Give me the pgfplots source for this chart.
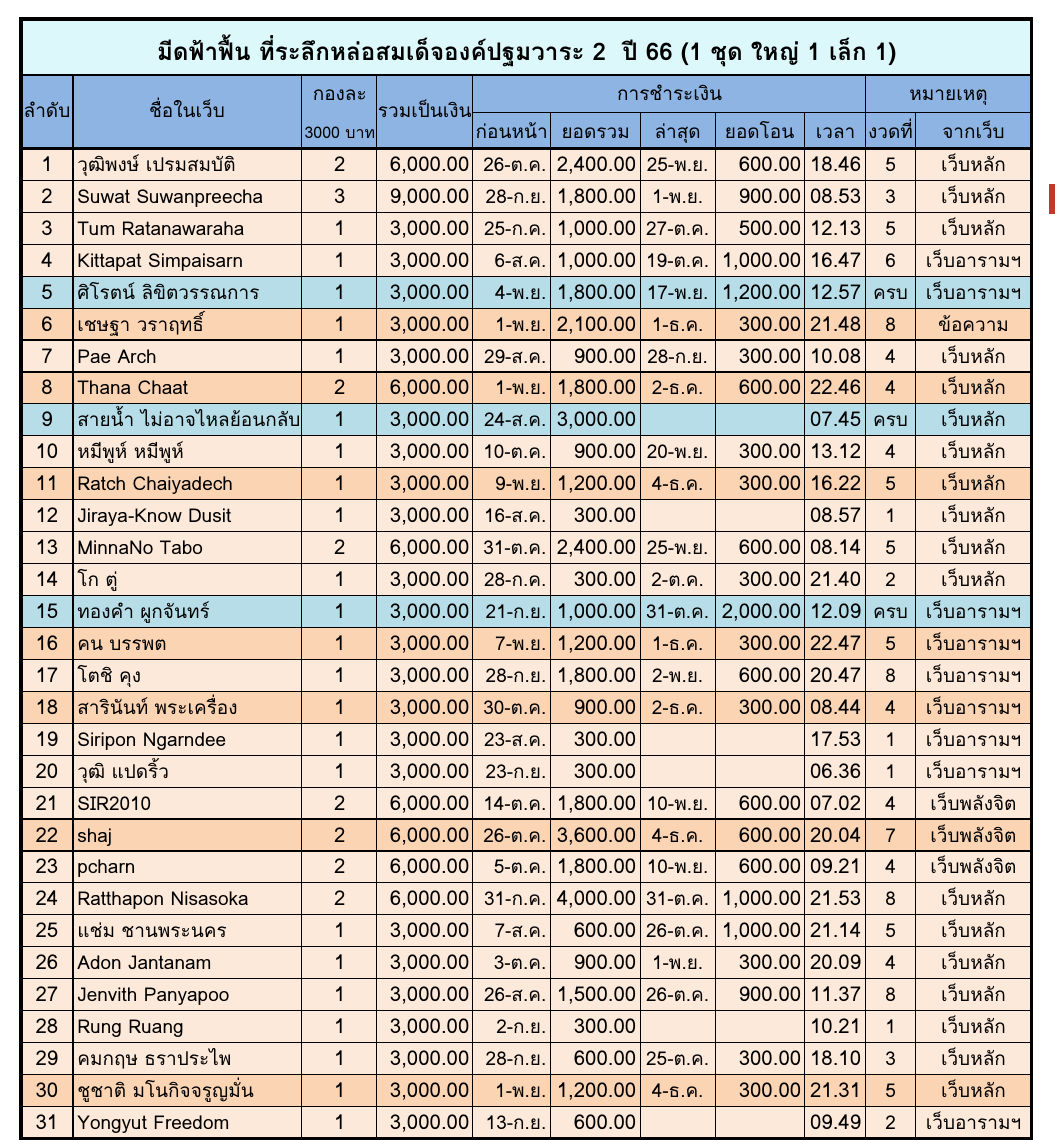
\documentclass[border=0pt]{standalone}
\usepackage{pgfplots}
\usepackage{pgfplotstable}
\pgfplotsset{compat=1.18}
\usepackage{fontspec}
\setmainfont{Loma}[Script=Thai]

\definecolor{titlebg}{HTML}{DDF8FB}
\definecolor{headbg}{HTML}{8DB4E2}
\definecolor{rowbg}{HTML}{FDE9D9}
\definecolor{roworange}{HTML}{FBD4B4}
\definecolor{rowblue}{HTML}{B7DEE8}
\definecolor{markred}{HTML}{C0392B}

% one row per member
\pgfplotstableread[col sep=semicolon]{
i;name;n;total;prev;sum;last;trans;time;rnd;web
1;วุฒิพงษ์ เปรมสมบัติ;2;6,000.00;26-ต.ค.;2,400.00;25-พ.ย.;600.00;18.46;5;เว็บหลัก
2;Suwat Suwanpreecha;3;9,000.00;28-ก.ย.;1,800.00;1-พ.ย.;900.00;08.53;3;เว็บหลัก
3;Tum Ratanawaraha;1;3,000.00;25-ก.ค.;1,000.00;27-ต.ค.;500.00;12.13;5;เว็บหลัก
4;Kittapat Simpaisarn;1;3,000.00;6-ส.ค.;1,000.00;19-ต.ค.;1,000.00;16.47;6;เว็บอารามฯ
5;ศิโรตน์ ลิขิตวรรณการ;1;3,000.00;4-พ.ย.;1,800.00;17-พ.ย.;1,200.00;12.57;ครบ;เว็บอารามฯ
6;เชษฐา วราฤทธิ์;1;3,000.00;1-พ.ย.;2,100.00;1-ธ.ค.;300.00;21.48;8;ข้อความ
7;Pae Arch;1;3,000.00;29-ส.ค.;900.00;28-ก.ย.;300.00;10.08;4;เว็บหลัก
8;Thana Chaat;2;6,000.00;1-พ.ย.;1,800.00;2-ธ.ค.;600.00;22.46;4;เว็บหลัก
9;สายน้ำ ไม่อาจไหลย้อนกลับ;1;3,000.00;24-ส.ค.;3,000.00;;;07.45;ครบ;เว็บหลัก
10;หมีพูห์ หมีพูห์;1;3,000.00;10-ต.ค.;900.00;20-พ.ย.;300.00;13.12;4;เว็บหลัก
11;Ratch Chaiyadech;1;3,000.00;9-พ.ย.;1,200.00;4-ธ.ค.;300.00;16.22;5;เว็บหลัก
12;Jiraya-Know Dusit;1;3,000.00;16-ส.ค.;300.00;;;08.57;1;เว็บหลัก
13;MinnaNo Tabo;2;6,000.00;31-ต.ค.;2,400.00;25-พ.ย.;600.00;08.14;5;เว็บหลัก
14;โก ตู่;1;3,000.00;28-ก.ค.;300.00;2-ต.ค.;300.00;21.40;2;เว็บหลัก
15;ทองคำ ผูกจันทร์;1;3,000.00;21-ก.ย.;1,000.00;31-ต.ค.;2,000.00;12.09;ครบ;เว็บอารามฯ
16;คน บรรพต;1;3,000.00;7-พ.ย.;1,200.00;1-ธ.ค.;300.00;22.47;5;เว็บอารามฯ
17;โตชิ คุง;1;3,000.00;28-ก.ย.;1,800.00;2-พ.ย.;600.00;20.47;8;เว็บอารามฯ
18;สารินันท์ พระเครื่อง;1;3,000.00;30-ต.ค.;900.00;2-ธ.ค.;300.00;08.44;4;เว็บอารามฯ
19;Siripon Ngarndee;1;3,000.00;23-ส.ค.;300.00;;;17.53;1;เว็บอารามฯ
20;วุฒิ แปดริ้ว;1;3,000.00;23-ก.ย.;300.00;;;06.36;1;เว็บอารามฯ
21;SIR2010;2;6,000.00;14-ต.ค.;1,800.00;10-พ.ย.;600.00;07.02;4;เว็บพลังจิต
22;shaj;2;6,000.00;26-ต.ค.;3,600.00;4-ธ.ค.;600.00;20.04;7;เว็บพลังจิต
23;pcharn;2;6,000.00;5-ต.ค.;1,800.00;10-พ.ย.;600.00;09.21;4;เว็บพลังจิต
24;Ratthapon Nisasoka;2;6,000.00;31-ก.ค.;4,000.00;31-ต.ค.;1,000.00;21.53;8;เว็บหลัก
25;แช่ม ชานพระนคร;1;3,000.00;7-ส.ค.;600.00;26-ต.ค.;1,000.00;21.14;5;เว็บหลัก
26;Adon Jantanam;1;3,000.00;3-ต.ค.;900.00;1-พ.ย.;300.00;20.09;4;เว็บหลัก
27;Jenvith Panyapoo;1;3,000.00;26-ส.ค.;1,500.00;26-ต.ค.;900.00;11.37;8;เว็บหลัก
28;Rung Ruang;1;3,000.00;2-ก.ย.;300.00;;;10.21;1;เว็บหลัก
29;คมกฤษ ธราประไพ;1;3,000.00;28-ก.ย.;600.00;25-ต.ค.;300.00;18.10;3;เว็บหลัก
30;ชูชาติ มโนกิจจรูญมั่น;1;3,000.00;1-พ.ย.;1,200.00;4-ธ.ค.;300.00;21.31;5;เว็บหลัก
31;Yongyut Freedom;1;3,000.00;13-ก.ย.;600.00;;;09.49;2;เว็บอารามฯ
}\members

% header cells: centre x, baseline y (pixels from the top)
\pgfplotstableread[col sep=semicolon]{
x;y;label
47;118;ลำดับ
187;118;ชื่อในเว็บ
340;101;กองละ
425;118;รวมเป็นเงิน
670;101;การชำระเงิน
949;101;หมายเหตุ
512;139;ก่อนหน้า
596;139;ยอดรวม
678;139;ล่าสุด
760;139;ยอดโอน
836;139;เวลา
891;139;งวดที่
974;139;จากเว็บ
}\headers

\newcommand\datafont{\fontsize{9.5}{11}\selectfont}
\newcommand\numfont{\fontsize{10.2}{12}\selectfont}

% one text column of the table: x, anchor, column name, font
\newcommand\textcol[4]{%
  \addplot[only marks, mark=*, mark size=0pt, mark options={draw=none, fill=none},
    point meta=explicit symbolic, nodes near coords,
    every node near coord/.append style={anchor=#2, inner sep=0pt, text=black, font=#4}]
    table[x expr=#1, y expr=171.5+(\thisrow{i}-1)*31.95, meta=#3] \members;
}

\begin{document}
\begin{tikzpicture}
\begin{axis}[
    width=528pt, height=570pt, scale only axis,
    xmin=0, xmax=1056, ymin=0, ymax=1140,
    y dir=reverse,
    hide axis, clip=false,
]
% backgrounds
\addplot[fill=white, draw=none] coordinates {(0,0) (1056,0) (1056,1140) (0,1140)};
\addplot[fill=titlebg, draw=none] coordinates {(21,19) (1032,19) (1032,75) (21,75)};
\addplot[fill=headbg, draw=none] coordinates {(21,75) (1032,75) (1032,148.5) (21,148.5)};
\addplot[fill=rowbg, draw=none] coordinates {(21,148.5) (1032,148.5) (1032,1139) (21,1139)};
\pgfplotsinvokeforeach{6,8,11,16,18,22,30}{
  \addplot[fill=roworange, draw=none] table[row sep=\\, y expr=148.5+(#1-1+\thisrow{r})*31.95]
    {x r\\21 0\\1032 0\\1032 1\\21 1\\};
}
\pgfplotsinvokeforeach{5,9,15}{
  \addplot[fill=rowblue, draw=none] table[row sep=\\, y expr=148.5+(#1-1+\thisrow{r})*31.95]
    {x r\\21 0\\1032 0\\1032 1\\21 1\\};
}
\addplot[fill=markred, draw=none] coordinates {(1050,184) (1056,184) (1056,214) (1050,214)};

% grid lines
\pgfplotsinvokeforeach{1,...,30}{
  \addplot[black, line width=0.55pt] table[row sep=\\, y expr=148.5+#1*31.95] {x\\21\\1032\\};
}
\addplot[black, line width=0.55pt, unbounded coords=jump] coordinates {
  (73,75) (73,1139) (nan,nan)
  (302,75) (302,1139) (nan,nan)
  (377,75) (377,1139) (nan,nan)
  (473,75) (473,1139) (nan,nan)
  (866,75) (866,1139) (nan,nan)
  (551,113) (551,1139) (nan,nan)
  (641,113) (641,1139) (nan,nan)
  (716,113) (716,1139) (nan,nan)
  (805,113) (805,1139) (nan,nan)
  (916,113) (916,1139) (nan,nan)
  (473,113) (1032,113)
};
\addplot[black, line width=1.4pt, unbounded coords=jump] coordinates {
  (21,75) (1032,75) (nan,nan)
  (21,148.5) (1032,148.5)
};
\addplot[black, line width=1.6pt] coordinates {(21,19) (1032,19) (1032,1139) (21,1139)} -- cycle;

% title
\addplot[only marks, mark=*, mark size=0pt, mark options={draw=none, fill=none},
  nodes near coords={มีดฟ้าฟื้น ที่ระลึกหล่อสมเด็จองค์ปฐมวาระ 2\ \ ปี 66 (1 ชุด ใหญ่ 1 เล็ก 1)},
  every node near coord/.append style={anchor=base, inner sep=0pt, text=black,
    font=\bfseries\fontsize{12.1}{14}\selectfont}]
  coordinates {(527,61)};

% headers
\addplot[only marks, mark=*, mark size=0pt, mark options={draw=none, fill=none},
  point meta=explicit symbolic, nodes near coords,
  every node near coord/.append style={anchor=base, inner sep=0pt, text=black, font=\datafont}]
  table[x=x, y=y, meta=label] \headers;
\addplot[only marks, mark=*, mark size=0pt, mark options={draw=none, fill=none},
  nodes near coords={3000 บาท},
  every node near coord/.append style={anchor=base, inner sep=0pt, text=black,
    font=\fontsize{8}{9}\selectfont}]
  coordinates {(340,139)};

% body
\textcol{47}{base}{i}{\numfont}
\textcol{77}{base west}{name}{\datafont}
\textcol{340}{base}{n}{\numfont}
\textcol{470}{base east}{total}{\numfont}
\textcol{547}{base east}{prev}{\datafont}
\textcol{637}{base east}{sum}{\numfont}
\textcol{678}{base}{last}{\datafont}
\textcol{802}{base east}{trans}{\numfont}
\textcol{862}{base east}{time}{\numfont}
\textcol{891}{base}{rnd}{\datafont}
\textcol{974}{base}{web}{\datafont}
\end{axis}
\end{tikzpicture}
\end{document}
